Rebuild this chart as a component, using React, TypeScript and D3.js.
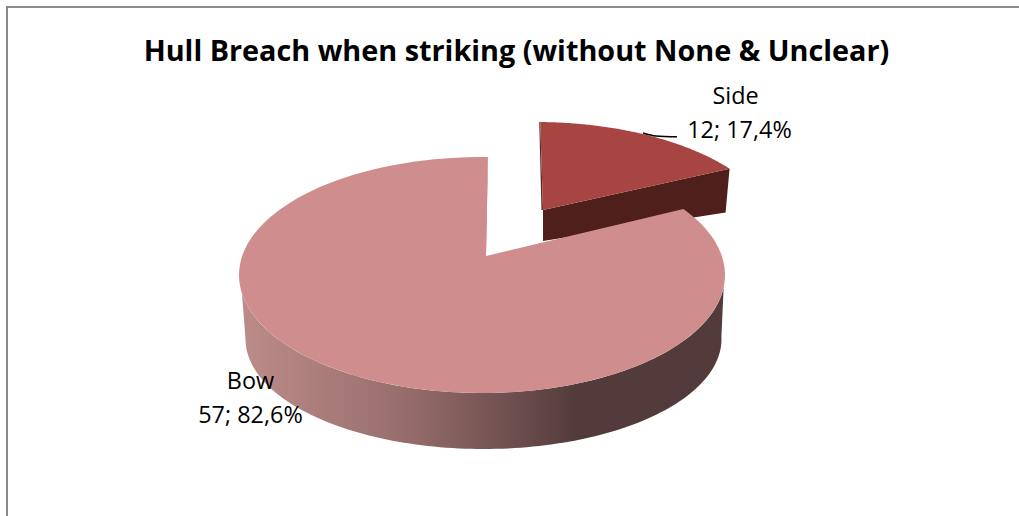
import * as d3 from "d3";

// Chart content
const chartTitle = "Hull Breach when striking (without None & Unclear)";
const categories = ["Side", "Bow"];
const counts = [12, 57];

// Styling per slice, in the same order as the categories
const topColors = ["#a74543", "#cf8e8d"];
const wallColors = ["#4f1f1c", "url(#bowWall)"];
const edgeColors = ["#5a2421", "#b67a79"];

// Tilted-disc geometry of each exploded slice
const sliceGeometry = [
  {
    apex: [543, 210], baseApex: [543, 241],
    top: { cx: 536, cy: 240, rx: 243, ry: 118 },
    base: { cx: 536, cy: 279, rx: 238, ry: 110 },
    sweep: [1, 52.8],
    edgeInset: -3,
  },
  {
    apex: [486, 256], baseApex: [486, 312],
    top: { cx: 482, cy: 275, rx: 243, ry: 118 },
    base: { cx: 483.5, cy: 339, rx: 238, ry: 110 },
    sweep: [56, 361.4],
    edgeInset: -2,
  },
];

const rad = Math.PI / 180;
type Ellipse = { cx: number; cy: number; rx: number; ry: number };
const onEllipse = (e: Ellipse, a: number): [number, number] => [
  e.cx + e.rx * Math.sin(a),
  e.cy - e.ry * Math.cos(a),
];
const path = d3.line();
const formatShare = (v: number) => d3.format(".1f")(v).replace(".", ",") + "%";

export default function App() {
  const total = d3.sum(counts);
  const arcs = d3.pie<number>().sort(null)(counts);

  const slices = arcs.map((arc, i) => {
    const g = sliceGeometry[i];
    // Foreshortening: pie angles to the angles drawn on the tilted ellipse
    const toDrawn = d3
      .scaleLinear()
      .domain([arc.startAngle, arc.endAngle])
      .range([g.sweep[0] * rad, g.sweep[1] * rad]);
    const steps = d3.range(0, 121).map((k) =>
      toDrawn(arc.startAngle + ((arc.endAngle - arc.startAngle) * k) / 120)
    );
    return { g, toDrawn, steps, arc };
  });

  // Outer wall of the large slice, between its two silhouette tangents
  const bow = slices[1].g;
  const wallTop = d3.range(96, 261.5, 1.5).map((d) => onEllipse(bow.top, d * rad));
  const wallBase = d3.range(270, 87, -1.5).map((d) => onEllipse(bow.base, d * rad));

  // Cut face of the small slice
  const side = slices[0];
  const sideEnd = side.steps[side.steps.length - 1];
  const sideFace = [
    side.g.apex,
    onEllipse(side.g.top, sideEnd),
    onEllipse(side.g.base, sideEnd),
    side.g.baseApex,
  ] as [number, number][];

  return (
    <svg
      width={1019}
      height={516}
      style={{ position: "fixed", left: 0, top: 0, display: "block" }}
      fontFamily="'Open Sans', Lato, sans-serif"
    >
      <defs>
        <linearGradient id="bowWall" gradientUnits="userSpaceOnUse" x1={245} x2={721} y1={0} y2={0}>
          <stop offset="0" stopColor="#bb8b89" />
          <stop offset="0.33" stopColor="#986e6c" />
          <stop offset="0.55" stopColor="#705050" />
          <stop offset="0.7" stopColor="#533b3b" />
          <stop offset="1" stopColor="#533b3b" />
        </linearGradient>
      </defs>
      <rect width={1019} height={516} fill="#fff" />
      <path d="M1019,7H7V516" fill="none" stroke="#8a8a8a" strokeWidth={2} />

      <text x={516.5} y={61} textAnchor="middle" fontSize={28.8} fontWeight={700} fill="#000">
        {chartTitle}
      </text>

      {/* Small slice: cut face, inner edge, top */}
      <path d={path(sideFace)!} fill={wallColors[0]} />
      <path
        d={path([
          onEllipse(side.g.top, side.steps[0]),
          side.g.apex,
          [side.g.apex[0] - 1.5, side.g.apex[1]],
          [onEllipse(side.g.top, side.steps[0])[0] - 1, onEllipse(side.g.top, side.steps[0])[1]],
        ] as [number, number][])!}
        fill={edgeColors[0]}
      />
      <path
        d={path([side.g.apex, ...side.steps.map((a) => onEllipse(side.g.top, a))] as [number, number][])! + "Z"}
        fill={topColors[0]}
      />

      {/* Leader line of the small slice */}
      <path
        d={d3.line().curve(d3.curveMonotoneX)([[643, 133], [656, 136], [677, 136.8]])!}
        fill="none"
        stroke="#000"
        strokeWidth={1.4}
      />

      {/* Large slice: outer wall, inner edge, top */}
      <path d={path([...wallTop, ...wallBase] as [number, number][])! + "Z"} fill={wallColors[1]} />
      <path
        d={path([
          slices[1].g.apex,
          [slices[1].g.apex[0] + bow.edgeInset, slices[1].g.apex[1]],
          onEllipse(bow.top, slices[1].steps[120]),
        ] as [number, number][])! + "Z"}
        fill={edgeColors[1]}
      />
      <path
        d={path([bow.apex, ...slices[1].steps.map((a) => onEllipse(bow.top, a))] as [number, number][])! + "Z"}
        fill={topColors[1]}
      />

      {/* Data labels */}
      <g fontSize={23.4} fill="#000" textAnchor="middle">
        <text x={735.5} y={104}>{categories[0]}</text>
        <text x={739.5} y={138}>{`${counts[0]}; ${formatShare((counts[0] / total) * 100)}`}</text>
        <text x={250.5} y={389}>{categories[1]}</text>
        <text x={250.5} y={423}>{`${counts[1]}; ${formatShare((counts[1] / total) * 100)}`}</text>
      </g>
    </svg>
  );
}
